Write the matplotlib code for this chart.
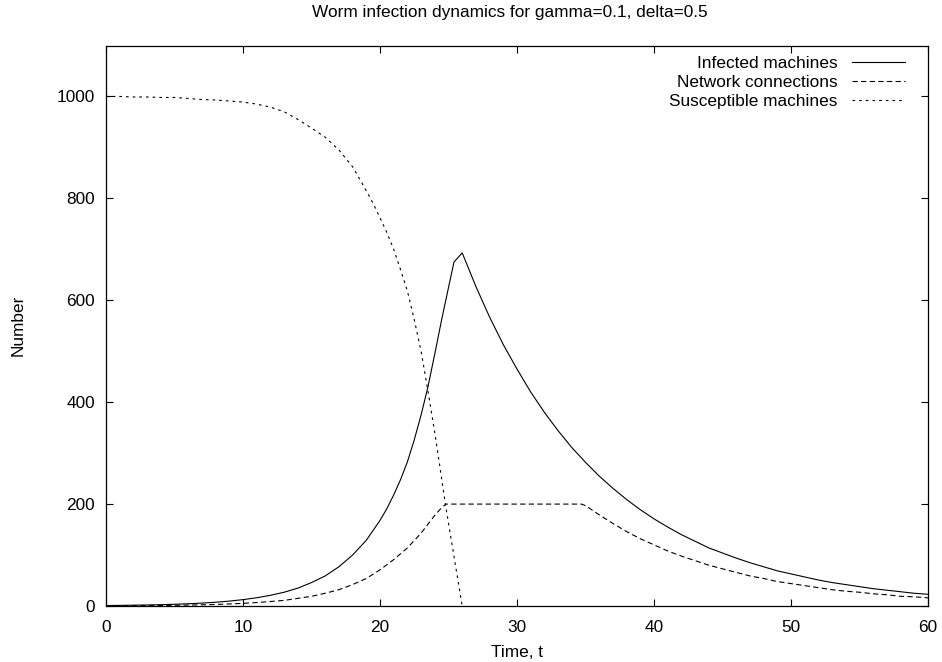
import matplotlib
matplotlib.use("Agg")
import matplotlib.pyplot as plt

plt.rcParams['font.family'] = ['Liberation Sans', 'DejaVu Sans']
plt.rcParams['lines.scale_dashes'] = False

# Infected machines
time_infected = (list(range(0, 20)) +
                 [20, 20.5, 21, 21.5, 22, 22.5, 23, 23.5, 24, 24.5, 25, 25.4] +
                 list(range(26, 61)))
infected = [0.9, 1.2, 1.6, 2.0, 2.6, 3.4, 4.4, 5.7, 7.4, 9.6,
            12.5, 16.2, 21, 27, 35, 46, 59, 77, 100, 129,
            168, 191, 218, 248, 283, 326, 375, 430, 495, 562, 625, 675,
            693, 627, 567, 513, 465, 420, 380, 344, 311, 282,
            255, 231, 209, 189, 171, 155, 140, 127, 114, 104,
            94, 85, 77, 69, 63, 57, 51, 46, 42, 38,
            34, 31, 28, 25, 23]

# Network connections (capped at 200)
time_connections = (list(range(0, 24)) + [24, 24.4, 24.8] + list(range(25, 35)) +
                    [34.7] + list(range(35, 61)))
connections = [0.4, 0.5, 0.7, 0.8, 1.1, 1.4, 1.8, 2.4, 3.1, 4.0,
               5.2, 6.8, 8.8, 11, 15, 19, 25, 32, 42, 54,
               71, 91, 114, 143,
               178, 190, 200,
               200, 200, 200, 200, 200, 200, 200, 200, 200, 200,
               200,
               197, 179, 162, 146, 132, 120, 108, 98, 89, 80,
               73, 66, 59, 54, 48, 44, 40, 36, 32, 29,
               27, 24, 22, 19, 18, 16]

# Susceptible machines
time_susceptible = (list(range(0, 19)) +
                    [19, 19.5, 20, 20.5, 21, 21.5, 22, 22.5, 23, 23.5, 24, 24.4, 24.8, 26])
susceptible = [1000, 1000, 999, 999, 998, 998, 996, 994, 993, 991,
               989, 985, 979, 970, 955, 938, 920, 895, 862,
               815, 790, 762, 733, 700, 660, 618, 562, 500, 422, 340, 268, 195, 0]

fig = plt.figure(figsize=(9.42, 6.62), dpi=100)
ax = fig.add_axes([106 / 942, 56 / 662, 822 / 942, 560.5 / 662])

ax.plot(time_infected, infected, color='black', lw=0.8, label='Infected machines')
ax.plot(time_connections, connections, color='black', lw=0.8,
        linestyle=(0, (3.8, 2.4)), label='Network connections')
ax.plot(time_susceptible, susceptible, color='black', lw=0.8,
        linestyle=(0, (1.9, 2.9)), label='Susceptible machines')

ax.set_xlim(0, 60)
ax.set_ylim(0, 1100)
ax.set_xticks(range(0, 61, 10))
ax.set_yticks(range(0, 1001, 200))
ax.tick_params(direction='in', length=5, width=0.8, top=True, right=True,
               labelsize=12.4)
ax.tick_params(axis='x', pad=10)
ax.tick_params(axis='y', pad=8)
for s in ax.spines.values():
    s.set_linewidth(0.9)

ax.set_xlabel('Time, t', fontsize=12.4, labelpad=7)
ax.set_ylabel('Number', fontsize=12.4, labelpad=22)
fig.text(510 / 942, 1 - 13 / 662, 'Worm infection dynamics for gamma=0.1, delta=0.5',
         ha='center', va='center', fontsize=12.4)

leg = ax.legend(loc='upper right', bbox_to_anchor=(0.972, 0.981), frameon=False,
                markerfirst=False, fontsize=12.4, handlelength=3.1, handletextpad=0.8,
                labelspacing=0.22, borderpad=0, borderaxespad=0)

fig.savefig('out.png', dpi=100)
